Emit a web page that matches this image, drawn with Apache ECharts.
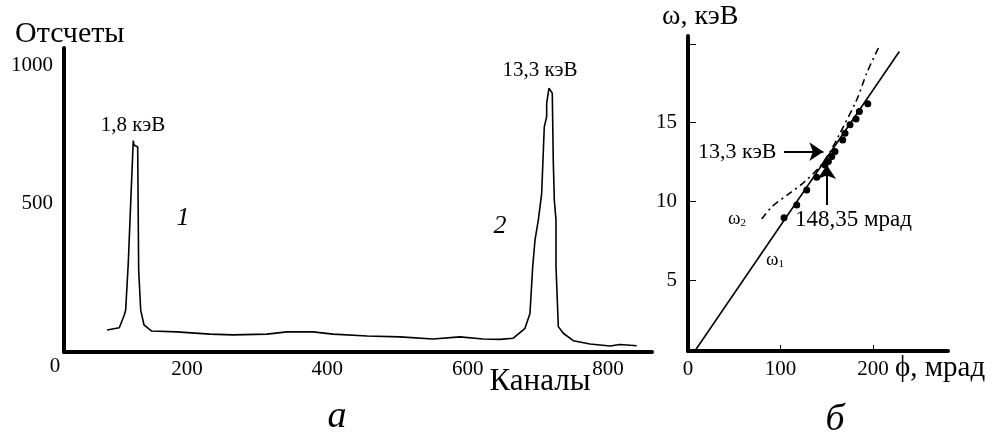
<!DOCTYPE html>
<html><head><meta charset="utf-8">
<script src="https://cdn.jsdelivr.net/npm/echarts@6/dist/echarts.min.js"></script>
<style>html,body{margin:0;padding:0;background:#fff}#c{width:998px;height:439px}</style>
</head><body><div id="c"></div>
<script>
// ---- Panel a: spectrum ----
const spectrumChannels = [86, 103.5, 110.6, 112.6, 116.3, 120.1, 123.4, 124.4, 129.7, 131.1, 134, 138.7, 149.6, 185.3, 232.7, 265.5, 313.9, 342.4, 379.5, 408, 456.5, 503.5, 550.5, 589, 621.8, 646, 665, 681.6, 688.7, 692.6, 695.9, 700.6, 705.4, 709.1, 712.5, 712.5, 715.8, 720.5, 721.9, 723.4, 725.8, 725.8, 729.1, 736.2, 750.4, 774.3, 802.8, 817, 840.8];
const spectrumCounts   = [40, 48, 94, 112, 283, 523, 726, 710, 703, 257, 112, 58, 36, 33, 25, 22, 25, 33, 33, 25, 18, 15, 7, 15, 7, 6, 10, 46, 100, 269, 366, 438, 535, 776, 813, 861, 916, 898, 656, 511, 438, 269, 52, 28, 1, -11, -18, -13, -17];
const spectrumXTicks = [200, 400, 600, 800];
const spectrumYTicks = [500, 1000];

// ---- Panel б: dispersion ----
const omega1Phi = [7.6, 228.4];
const omega1E   = [0.51, 19.52];
const omega2Phi = [79.7, 90.5, 110.3, 124.6, 142.7, 153.5, 164.3, 182.4, 193.2, 206.5];
const omega2E   = [8.88, 9.64, 10.53, 11.17, 12.21, 13.14, 14.33, 16.45, 18.15, 19.83];
const pointsPhi = [103.8, 117.5, 128.3, 139.1, 148.1, 151.7, 155.4, 158.9, 167.2, 169.7, 175.1, 181.6, 185.2, 194.3];
const pointsE   = [8.96, 9.77, 10.72, 11.53, 12.31, 12.52, 12.84, 13.16, 13.90, 14.33, 14.86, 15.22, 15.70, 16.19];
const phiTicks = [0, 100, 200];
const phiTickMarks = [100, 200];
const eLabels = [5, 10, 15];
const eTickMarks = [5, 10, 15, 20];
const arrowEnergy = [[103.8, 13.15], [146.3, 13.15]];
const arrowAngle  = [[150, 9.77], [150, 12.31]];

const zip = (a, b) => a.map((v, i) => [v, b[i]]);
const FONT = '"Liberation Serif", "Times New Roman", serif';
const axisLine = { show: true, onZero: false, lineStyle: { color: '#000', width: 4 } };
const plain = v => String(v);

const chart = echarts.init(document.getElementById('c'), null, { renderer: 'canvas' });
chart.setOption({
  backgroundColor: '#fff',
  animation: false,
  textStyle: { fontFamily: FONT, color: '#000' },
  grid: [
    { left: 64, top: 48, width: 588, height: 304 },
    { left: 688, top: 36, width: 260, height: 315 }
  ],
  xAxis: [
    { type: 'value', gridIndex: 0, min: 24.7, max: 862.6, splitLine: { show: false },
      axisLine, axisTick: { show: false },
      axisLabel: { customValues: spectrumXTicks, formatter: plain, fontSize: 21, color: '#000', fontFamily: FONT, margin: 7 } },
    { type: 'value', gridIndex: 1, min: 0, max: 281, splitLine: { show: false },
      axisLine,
      axisTick: { show: true, inside: true, length: 6, customValues: phiTickMarks, lineStyle: { color: '#000', width: 1 } },
      axisLabel: { customValues: phiTicks, formatter: plain, fontSize: 21, color: '#000', fontFamily: FONT, margin: 8 } }
  ],
  yAxis: [
    { type: 'value', gridIndex: 0, min: -39.9, max: 1061.6, splitLine: { show: false },
      axisLine, axisTick: { show: false },
      axisLabel: { customValues: spectrumYTicks, formatter: plain, fontSize: 21, color: '#000', fontFamily: FONT, margin: 11 } },
    { type: 'value', gridIndex: 1, min: 0.49, max: 20.5, splitLine: { show: false },
      axisLine,
      axisTick: { show: true, inside: true, length: 8, customValues: eTickMarks, lineStyle: { color: '#000', width: 1 } },
      axisLabel: { customValues: eLabels, formatter: plain, fontSize: 21, color: '#000', fontFamily: FONT, margin: 11 } }
  ],
  series: [
    { name: 'spectrum', type: 'line', xAxisIndex: 0, yAxisIndex: 0, data: zip(spectrumChannels, spectrumCounts),
      showSymbol: false, lineStyle: { color: '#000', width: 1.6 } },
    { name: 'ω1', type: 'line', xAxisIndex: 1, yAxisIndex: 1, data: zip(omega1Phi, omega1E),
      showSymbol: false, lineStyle: { color: '#000', width: 1.6 } },
    { name: 'ω2', type: 'line', xAxisIndex: 1, yAxisIndex: 1, data: zip(omega2Phi, omega2E), smooth: 0.3,
      showSymbol: false, lineStyle: { color: '#000', width: 1.6, type: [7, 4, 2, 4] } },
    { name: 'points', type: 'scatter', xAxisIndex: 1, yAxisIndex: 1, data: zip(pointsPhi, pointsE),
      symbolSize: 7, itemStyle: { color: '#000', opacity: 1 } },
    { name: 'arrows', type: 'lines', coordinateSystem: 'cartesian2d', xAxisIndex: 1, yAxisIndex: 1,
      symbol: ['none', 'arrow'], symbolSize: [10, 14],
      lineStyle: { color: '#000', width: 2, opacity: 1 },
      data: [{ coords: arrowEnergy }, { coords: arrowAngle }] }
  ],
  graphic: [
    { type: 'text', left: 15, top: 19, style: { text: 'Отсчеты', font: '30px ' + FONT, fill: '#000' } },
    { type: 'text', x: 55, y: 366, style: { text: '0', font: '21px ' + FONT, fill: '#000', align: 'center', verticalAlign: 'middle' } },
    { type: 'text', x: 540, y: 382, style: { text: 'Каналы', font: '31px ' + FONT, fill: '#000', align: 'center', verticalAlign: 'middle' } },
    { type: 'text', x: 133, y: 125, style: { text: '1,8 кэВ', font: '21px ' + FONT, fill: '#000', align: 'center', verticalAlign: 'middle' } },
    { type: 'text', x: 540, y: 70, style: { text: '13,3 кэВ', font: '21px ' + FONT, fill: '#000', align: 'center', verticalAlign: 'middle' } },
    { type: 'text', x: 183, y: 218, style: { text: '1', font: 'italic 26px ' + FONT, fill: '#000', align: 'center', verticalAlign: 'middle' } },
    { type: 'text', x: 500, y: 226, style: { text: '2', font: 'italic 26px ' + FONT, fill: '#000', align: 'center', verticalAlign: 'middle' } },
    { type: 'text', x: 337, y: 417, style: { text: 'а', font: 'italic 38px ' + FONT, fill: '#000', align: 'center', verticalAlign: 'middle' } },
    { type: 'text', x: 835, y: 420, style: { text: 'б', font: 'italic 38px ' + FONT, fill: '#000', align: 'center', verticalAlign: 'middle' } },
    { type: 'text', x: 662, y: 17, style: { text: 'ω, кэВ', font: '28px ' + FONT, fill: '#000', align: 'left', verticalAlign: 'middle' } },
    { type: 'text', x: 895, y: 368, style: { text: 'ϕ, мрад', font: '29px ' + FONT, fill: '#000', align: 'left', verticalAlign: 'middle' } },
    { type: 'text', x: 698, y: 152, style: { text: '13,3 кэВ', font: '22px ' + FONT, fill: '#000', align: 'left', verticalAlign: 'middle' } },
    { type: 'text', x: 795, y: 220, style: { text: '148,35 мрад', font: '23px ' + FONT, fill: '#000', align: 'left', verticalAlign: 'middle' } },
    { type: 'text', x: 728, y: 219, style: { text: '{w|ω}{s|2}', align: 'left', verticalAlign: 'middle',
        rich: { w: { font: '19px ' + FONT, fill: '#000' }, s: { font: '11px ' + FONT, fill: '#000', padding: [8, 0, 0, 0] } } } },
    { type: 'text', x: 766, y: 260, style: { text: '{w|ω}{s|1}', align: 'left', verticalAlign: 'middle',
        rich: { w: { font: '19px ' + FONT, fill: '#000' }, s: { font: '11px ' + FONT, fill: '#000', padding: [8, 0, 0, 0] } } } }
  ]
});
</script>
</body></html>
